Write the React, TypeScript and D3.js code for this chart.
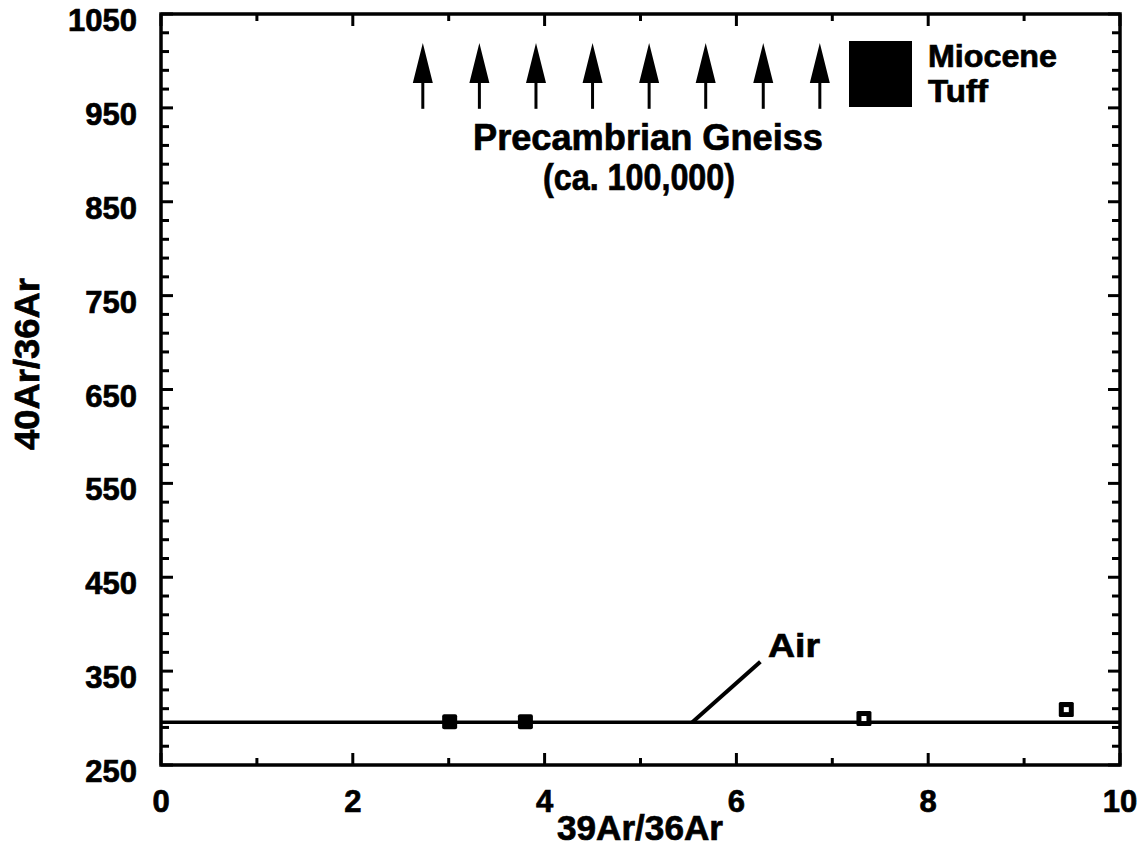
import * as d3 from 'd3'
import { useEffect, useRef } from 'react'

// values
const xTickValues = [0, 1, 2, 3, 4, 5, 6, 7, 8, 9, 10]
const xTickLabels = [0, 2, 4, 6, 8, 10]
const yTickValues = d3.range(250, 1051, 20)
const yTickLabels = [250, 350, 450, 550, 650, 750, 850, 950, 1050]

const airRatio = 295.5
const airLeader = [[5.54, 295.5], [6.25, 360]]

const tuffFilledX = [3.01, 3.8]
const tuffFilledY = [296, 296]
const tuffOpenX = [7.33, 9.44]
const tuffOpenY = [299.5, 309]

// off-scale gneiss values (ca. 100,000) drawn as up arrows
const gneissArrowX = [2.73, 3.32, 3.91, 4.5, 5.09, 5.68, 6.28, 6.87]
const gneissArrowY = [949, 1019]

const FONT = "'Liberation Sans', Arial, Helvetica, sans-serif"

export default function App() {
  const ref = useRef<SVGSVGElement | null>(null)

  useEffect(() => {
    const el = ref.current
    if (!el) return
    const svg = d3.select(el)
    svg.selectAll('*').remove()

    const left = 161, right = 1120, top = 14, bottom = 765
    const x = d3.scaleLinear().domain([0, 10]).range([left, right])
    const y = d3.scaleLinear().domain([250, 1050]).range([bottom, top])

    const g = svg.append('g')

    // ticks on all four sides, pointing inward
    const isMajorY = (v: number) => (v - 250) % 100 === 0
    const isMajorX = (v: number) => v % 2 === 0
    const tk = g.append('g').attr('stroke', '#000').attr('stroke-width', 3)
    yTickValues.forEach((v) => {
      const len = isMajorY(v) ? 12 : 8
      tk.append('line').attr('x1', left).attr('x2', left + len).attr('y1', y(v)).attr('y2', y(v))
      tk.append('line').attr('x1', right).attr('x2', right - len).attr('y1', y(v)).attr('y2', y(v))
    })
    xTickValues.forEach((v) => {
      const len = isMajorX(v) ? 12 : 7
      tk.append('line').attr('x1', x(v)).attr('x2', x(v)).attr('y1', bottom).attr('y2', bottom - len)
      tk.append('line').attr('x1', x(v)).attr('x2', x(v)).attr('y1', top).attr('y2', top + len)
    })

    // air reference line
    g.append('line')
      .attr('x1', x(0)).attr('x2', x(10))
      .attr('y1', y(airRatio)).attr('y2', y(airRatio))
      .attr('stroke', '#000').attr('stroke-width', 3.5)

    g.append('path')
      .attr('d', d3.line()(airLeader.map(([a, b]) => [x(a), y(b)] as [number, number])))
      .attr('stroke', '#000').attr('stroke-width', 4).attr('fill', 'none')

    // frame
    g.append('rect')
      .attr('x', left).attr('y', top)
      .attr('width', right - left).attr('height', bottom - top)
      .attr('fill', 'none').attr('stroke', '#000').attr('stroke-width', 3.5)

    // tuff points
    const sq = 15
    tuffFilledX.forEach((v, i) => {
      g.append('rect')
        .attr('x', x(v) - sq / 2).attr('y', y(tuffFilledY[i]) - sq / 2)
        .attr('width', sq).attr('height', sq).attr('rx', 2).attr('fill', '#000')
    })
    tuffOpenX.forEach((v, i) => {
      const s = 15, hole = 5
      const cx = x(v), cy = y(tuffOpenY[i])
      g.append('rect')
        .attr('x', cx - s / 2).attr('y', cy - s / 2)
        .attr('width', s).attr('height', s).attr('rx', 1.5).attr('fill', '#000')
      g.append('rect')
        .attr('x', cx - hole / 2).attr('y', cy - hole / 2)
        .attr('width', hole).attr('height', hole).attr('fill', '#fff')
    })

    // gneiss arrows
    const headLen = 40, headW = 20
    gneissArrowX.forEach((v) => {
      const cx = x(v)
      const y0 = y(gneissArrowY[0]), y1 = y(gneissArrowY[1])
      g.append('line').attr('x1', cx).attr('x2', cx).attr('y1', y0).attr('y2', y1 + headLen - 2)
        .attr('stroke', '#000').attr('stroke-width', 3)
      g.append('path')
        .attr('d', `M${cx},${y1} L${cx - headW / 2},${y1 + headLen} L${cx + headW / 2},${y1 + headLen} Z`)
        .attr('fill', '#000')
    })

    // legend
    g.append('rect').attr('x', 849).attr('y', 41).attr('width', 63).attr('height', 66).attr('fill', '#000')
    const txt = (tx: number, ty: number, s: string, size: number, anchor = 'start', len?: number) => {
      const t = g.append('text')
        .attr('x', tx).attr('y', ty)
        .attr('font-family', FONT).attr('font-weight', 'bold')
        .attr('font-size', size).attr('text-anchor', anchor)
        .attr('fill', '#000').attr('stroke', '#000').attr('stroke-width', 0.7)
        .text(s)
      if (len) t.attr('textLength', len).attr('lengthAdjust', 'spacingAndGlyphs')
      return t
    }
    txt(928, 67, 'Miocene', 31, 'start', 129)
    txt(928, 102, 'Tuff', 31, 'start', 60)

    txt(648, 150, 'Precambrian Gneiss', 36, 'middle', 350)
    txt(639, 190, '(ca. 100,000)', 36, 'middle', 192)
    txt(768, 657, 'Air', 34, 'start', 52)

    // tick labels
    xTickLabels.forEach((v) => txt(x(v), 812, String(v), 31, 'middle'))
    yTickLabels.forEach((v) => txt(137, y(v) + 17, String(v), 31, 'end'))

    // axis titles
    txt(640, 840, '39Ar/36Ar', 35, 'middle', 166)
    g.append('text')
      .attr('transform', `translate(39,${364}) rotate(-90)`)
      .attr('font-family', FONT).attr('font-weight', 'bold')
      .attr('font-size', 35).attr('text-anchor', 'middle')
      .attr('stroke', '#000').attr('stroke-width', 0.7)
      .attr('textLength', 172).attr('lengthAdjust', 'spacingAndGlyphs')
      .text('40Ar/36Ar')
  }, [])

  return (
    <svg
      ref={ref}
      width={1144}
      height={855}
      style={{ position: 'absolute', left: 0, top: 0, background: '#fff' }}
    />
  )
}
